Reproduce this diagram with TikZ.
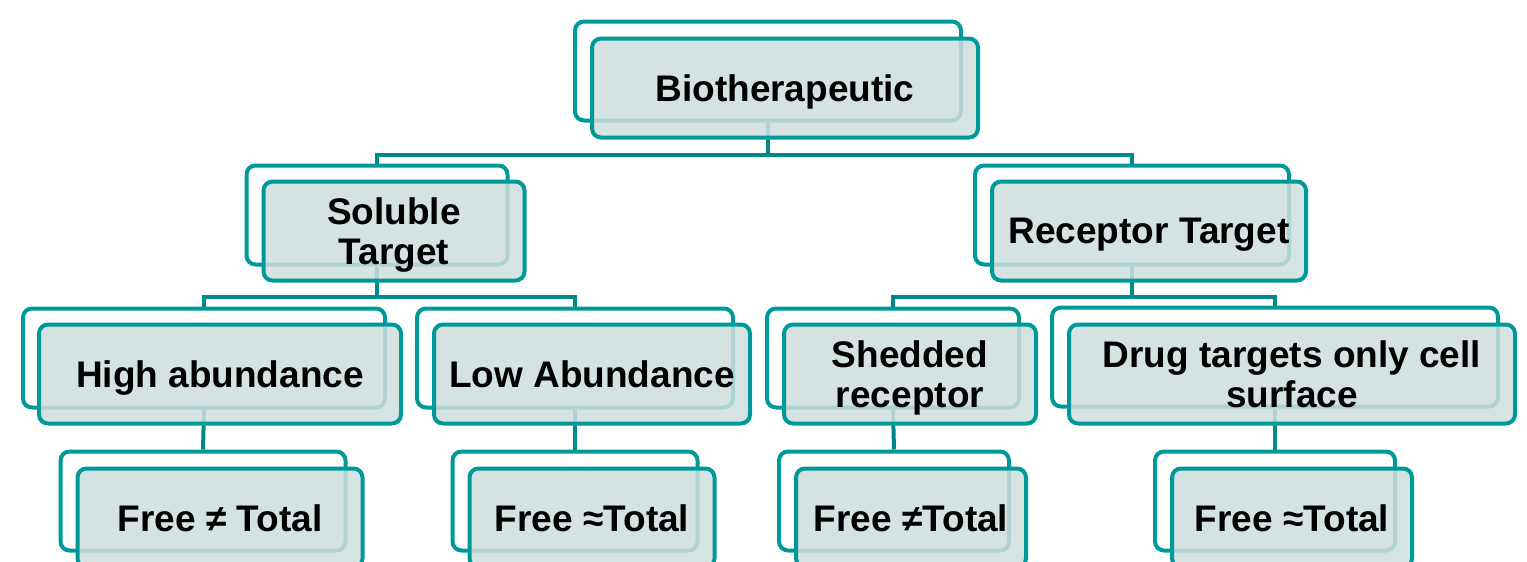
\documentclass[tikz,border=0pt]{standalone}
\usepackage{fontspec}
\setmainfont{Liberation Sans}
\definecolor{teal1}{RGB}{0,153,153}
\definecolor{teal2}{RGB}{0,138,138}
\definecolor{frontfill}{RGB}{206,222,222}
\newcommand\nodepth[1]{\raisebox{0pt}[\height][0pt]{#1}}
\tikzset{
  backbox/.style={draw=teal1, line width=4pt, fill=white, rounded corners=9pt,
    minimum height=99pt, inner sep=0pt},
  frontbox/.style={draw=teal1, line width=4pt, fill=frontfill, fill opacity=0.85,
    text opacity=1, rounded corners=9pt, minimum height=99pt, inner sep=0pt,
    align=center, font=\bfseries\fontsize{37}{39.5}\selectfont},
  conn/.style={draw=teal2, line width=4pt}
}
\begin{document}
\begin{tikzpicture}[x=1pt,y=1pt]
\useasboundingbox (0,0) rectangle (1527,-562);
\clip (0,0) rectangle (1527,-562);
% back boxes
\node[backbox, minimum width=386pt] (bioB) at (768,-71) {};
\node[backbox, minimum width=261pt] (solB) at (377,-215) {};
\node[backbox, minimum width=314pt] (recB) at (1132,-215) {};
\node[backbox, minimum width=362pt] (highB) at (204,-358) {};
\node[backbox, minimum width=316pt] (lowB) at (575,-358) {};
\node[backbox, minimum width=252pt] (shedB) at (893,-358) {};
\node[backbox, minimum width=446pt] (drugB) at (1275,-357) {};
\node[backbox, minimum width=285pt] (fnaB) at (203,-501) {};
\node[backbox, minimum width=245pt] (faaB) at (575,-501) {};
\node[backbox, minimum width=230pt] (fnbB) at (894,-501) {};
\node[backbox, minimum width=240pt] (fabB) at (1275,-501) {};
% connectors
\draw[conn] (bioB.south) -- ++(0,-32) -| (solB.north);
\draw[conn] (bioB.south) -- ++(0,-32) -| (recB.north);
\draw[conn] (solB.south) -- ++(0,-30) -| (highB.north);
\draw[conn] (solB.south) -- ++(0,-30) -| (lowB.north);
\draw[conn] (recB.south) -- ++(0,-30) -| (shedB.north);
\draw[conn] (recB.south) -- ++(0,-30) -| (drugB.north);
\draw[conn] (highB.south) -- (fnaB.north);
\draw[conn] (lowB.south) -- (faaB.north);
\draw[conn] (shedB.south) -- (fnbB.north);
\draw[conn] (drugB.south) -- (fabB.north);
% front boxes
\node[frontbox, minimum width=386pt] (bio) at (785,-88) {\nodepth{Biotherapeutic}};
\node[frontbox, minimum width=261pt] (sol) at (394,-231) {Soluble\\\nodepth{Target}};
\node[frontbox, minimum width=314pt] (rec) at (1149,-231) {\nodepth{Receptor Target}};
\node[frontbox, minimum width=362pt] (high) at (220,-374) {\nodepth{High abundance}};
\node[frontbox, minimum width=316pt] (low) at (592,-374) {\nodepth{Low Abundance}};
\node[frontbox, minimum width=252pt] (shed) at (910,-374) {Shedded\\\nodepth{receptor}};
\node[frontbox, minimum width=446pt] (drug) at (1292,-374) {Drug targets only cell\\\nodepth{surface}};
\node[frontbox, minimum width=285pt] (fna) at (220,-518) {\nodepth{Free ≠ Total}};
\node[frontbox, minimum width=245pt] (faa) at (592,-518) {\nodepth{Free ≈Total}};
\node[frontbox, minimum width=230pt] (fnb) at (911,-518) {\nodepth{Free ≠Total}};
\node[frontbox, minimum width=240pt] (fab) at (1292,-518) {\nodepth{Free ≈Total}};
\end{tikzpicture}
\end{document}
